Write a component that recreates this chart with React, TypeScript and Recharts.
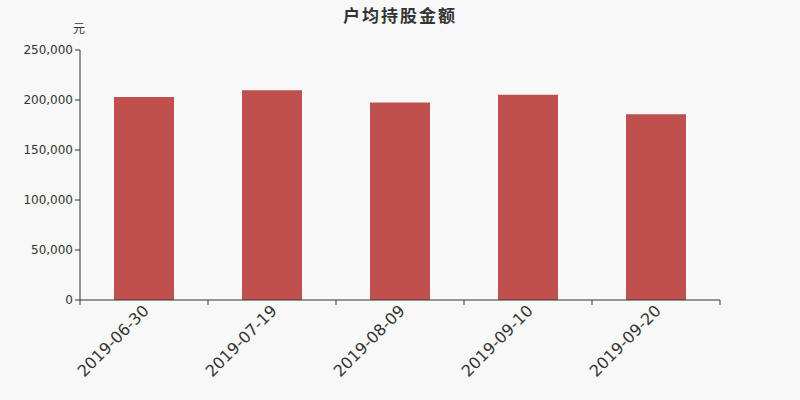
import { Bar, BarChart, XAxis, YAxis } from "recharts";

const dates = ["2019-06-30", "2019-07-19", "2019-08-09", "2019-09-10", "2019-09-20"];
const avgHoldingValue = [203000, 209800, 197500, 205300, 185700];
const yTicks = [0, 50000, 100000, 150000, 200000, 250000];

const data = dates.map((date, i) => ({ date, value: avgHoldingValue[i] }));

const FONT = '"DejaVu Sans", "Noto Sans CJK SC", sans-serif';
const AXIS = "#333";
const BAR = "#c0504d";

function DateTick(props: any) {
    const { x, y, payload, index } = props;
    const half = payload?.offset ?? 64;
    return (
        <g>
            <line x1={x - half} y1={y - 8} x2={x - half} y2={y - 3} stroke={AXIS} />
            {index === dates.length - 1 && (
                <line x1={x + half} y1={y - 8} x2={x + half} y2={y - 3} stroke={AXIS} />
            )}
            <text
                x={x + 2}
                y={y}
                transform={`rotate(-45, ${x + 2}, ${y})`}
                textAnchor="end"
                dominantBaseline="central"
                fill={AXIS}
                fontSize={16}
                fontFamily={FONT}
            >
                {payload.value}
            </text>
        </g>
    );
}

export default function App() {
    return (
        <div
            style={{
                position: "absolute",
                left: 0,
                top: 0,
                width: 800,
                height: 400,
                background: "#f8f8f8",
                fontFamily: FONT,
            }}
        >
            <div
                style={{
                    position: "absolute",
                    top: 2,
                    left: 0,
                    width: 800,
                    textAlign: "center",
                    fontSize: 17,
                    fontWeight: "bold",
                    color: AXIS,
                    letterSpacing: 2,
                }}
            >
                户均持股金额
            </div>
            <div style={{ position: "absolute", top: 19, left: 73, fontSize: 12, color: AXIS }}>元</div>
            <BarChart
                width={800}
                height={400}
                data={data}
                margin={{ top: 50, right: 80, left: 20, bottom: 0 }}
            >
                <XAxis
                    dataKey="date"
                    height={100}
                    stroke={AXIS}
                    tickLine={false}
                    tick={<DateTick />}
                    interval={0}
                />
                <YAxis
                    width={60}
                    domain={[0, 250000]}
                    ticks={yTicks}
                    stroke={AXIS}
                    tickSize={5}
                    tick={{ fill: AXIS, fontSize: 12, fontFamily: FONT }}
                    tickFormatter={(v: number) => v.toLocaleString("en-US")}
                />
                <Bar dataKey="value" fill={BAR} barSize={60} isAnimationActive={false} />
            </BarChart>
        </div>
    );
}
